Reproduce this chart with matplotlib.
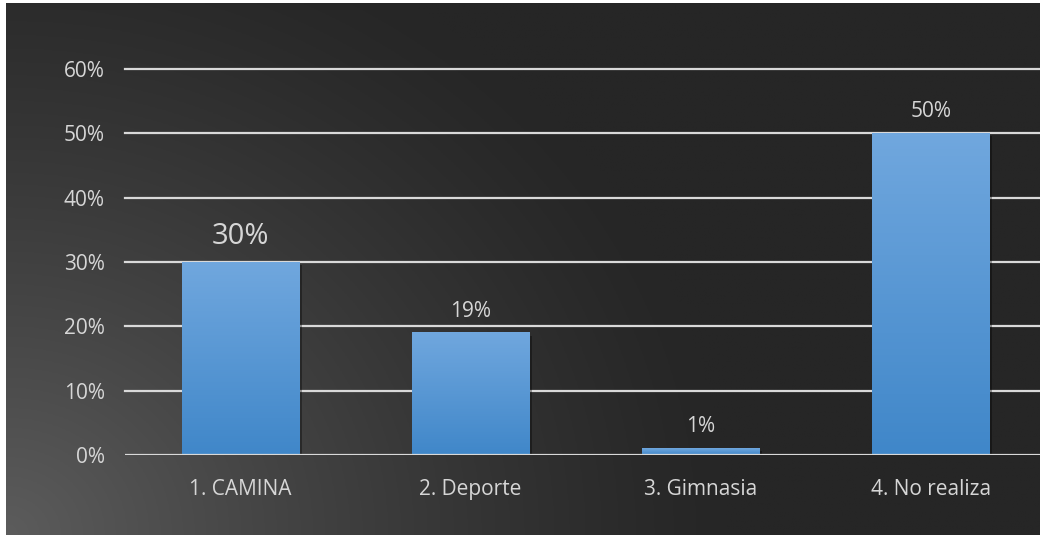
import numpy as np
import matplotlib
matplotlib.use("Agg")
import matplotlib.pyplot as plt
import matplotlib.patheffects as pe

categories = ["1. CAMINA", "2. Deporte", "3. Gimnasia", "4. No realiza"]
values = [0.30, 0.19, 0.01, 0.50]
labels = ["30%", "19%", "1%", "50%"]
label_sizes = [21, 15, 15, 15]
yticks = [0, 0.1, 0.2, 0.3, 0.4, 0.5, 0.6]
ytick_labels = ["0%", "10%", "20%", "30%", "40%", "50%", "60%"]

txt = "#d6d6d6"
plt.rcParams["font.family"] = ["Open Sans", "DejaVu Sans"]

fig = plt.figure(figsize=(10.4, 5.38), dpi=100)
fig.patch.set_facecolor("white")

# dark background with light glow in the bottom-left corner
bg = fig.add_axes([6 / 1040, 3 / 538, 1 - 6 / 1040, 532 / 538])
bg.set_axis_off()
xx, yy = np.meshgrid(np.linspace(0, 1034, 400), np.linspace(0, 532, 220))
t = np.sqrt((xx / 720) ** 2 + (yy / 640) ** 2)
w = np.clip(1 - t, 0, 1) ** 1.25
dark = np.array([0x26, 0x26, 0x26]) / 255
light = np.array([0x5c, 0x5c, 0x5c]) / 255
img = dark + (light - dark) * w[..., None]
bg.imshow(img, origin="lower", aspect="auto", extent=[0, 1, 0, 1])
bg.set_xlim(0, 1)
bg.set_ylim(0, 1)

ax = fig.add_axes([125.4 / 1040, 83 / 538, 920.6 / 1040, 386 / 538])
ax.patch.set_alpha(0)
x = np.arange(len(categories))
bars = ax.bar(x, values, width=0.51, color="#5b9bd5", zorder=2,
              path_effects=[pe.SimplePatchShadow(offset=(2, -2), alpha=0.35, shadow_rgbFace="black"),
                            pe.Normal()])

# vertical gradient fill for bars
grad = np.linspace(0, 1, 100)[:, None]
top_c = np.array([0x70, 0xa7, 0xde]) / 255
bot_c = np.array([0x40, 0x87, 0xc9]) / 255
gimg = bot_c + (top_c - bot_c) * grad[..., None]
for b in bars:
    x0, w_ = b.get_x(), b.get_width()
    h = b.get_height()
    ax.imshow(gimg, origin="lower", aspect="auto",
              extent=[x0, x0 + w_, 0, h], zorder=2.5)

for xi, v, lab, fs in zip(x, values, labels, label_sizes):
    ax.annotate(lab, (xi, v), xytext=(0, 8), textcoords="offset points",
                ha="center", va="bottom", color=txt, fontsize=fs)

ax.set_xlim(-0.5, len(categories) - 0.5)
ax.set_ylim(0, 0.6)
ax.set_yticks(yticks)
ax.set_yticklabels(ytick_labels)
ax.set_xticks(x)
ax.set_xticklabels(categories)
ax.tick_params(axis="y", length=0, pad=15, colors=txt, labelsize=15)
ax.tick_params(axis="x", length=0, pad=17, colors=txt, labelsize=15)
for s in ax.spines.values():
    s.set_visible(False)
for yv in yticks[1:]:
    ax.axhline(yv, color="#d9d9d9", lw=1.6, zorder=1, clip_on=False)
ax.axhline(0, color="#d9d9d9", lw=1.6, zorder=3)

fig.savefig("out.png", dpi=100, facecolor=fig.get_facecolor())
